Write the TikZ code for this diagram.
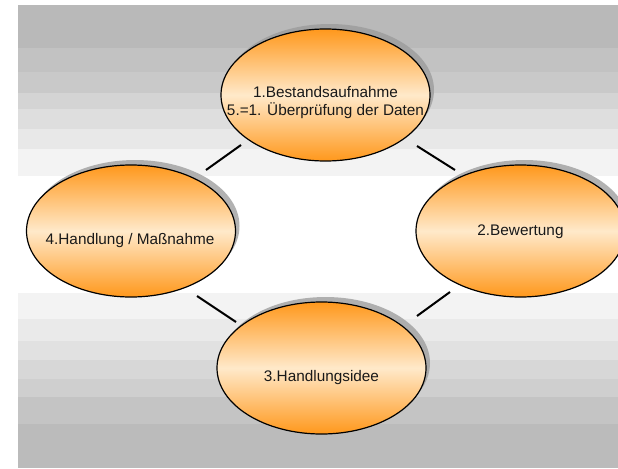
\documentclass[tikz,border=0pt]{standalone}
\usepackage{fontspec}
\setmainfont{Liberation Sans}
\usetikzlibrary{shapes.geometric,shadows,calc}
\definecolor{org}{RGB}{255,152,28}
\definecolor{lgt}{RGB}{255,233,202}
\tikzset{
  bubble/.style={ellipse, draw=black, line width=0.9pt, minimum width=156.75pt, minimum height=99pt,
    top color=org, bottom color=org, middle color=lgt, inner sep=0pt,
    drop shadow={shadow xshift=3pt, shadow yshift=3.75pt, opacity=0.75, fill=gray!80}},
  lbl/.style={font=\fontsize{11.5pt}{13.5pt}\selectfont, text=black!90, align=center, inner sep=0pt},
  conn/.style={line width=1.5pt, black}
}
\begin{document}
\begin{tikzpicture}[x=0.75pt,y=-0.75pt]
\useasboundingbox (0,0) rectangle (618,468);
\fill[white] (0,0) rectangle (618,468);
% top bands
\fill[black!27.5] (18,5) rectangle (618,48);
\fill[black!24] (18,48) rectangle (618,72);
\fill[black!21] (18,72) rectangle (618,93);
\fill[black!17] (18,93) rectangle (618,109);
\fill[black!13] (18,109) rectangle (618,129);
\fill[black!9] (18,129) rectangle (618,149);
\fill[black!4.7] (18,149) rectangle (618,176);
% bottom bands
\fill[black!4.7] (18,293) rectangle (618,319);
\fill[black!8.2] (18,319) rectangle (618,341);
\fill[black!11.8] (18,341) rectangle (618,360);
\fill[black!15.7] (18,360) rectangle (618,379);
\fill[black!18.8] (18,379) rectangle (618,397);
\fill[black!23] (18,397) rectangle (618,424);
\fill[black!26.7] (18,424) rectangle (618,468);
% ellipses
\node[bubble] (n1) at (325.5,95) {};
\node[bubble] (n4) at (131,231) {};
\node[bubble] (n2) at (520.5,231) {};
\node[bubble] (n3) at (321.5,368) {};
% texts
\node[lbl] (t1) at ($(n1.center)+(0,8)$) {1.Bestandsaufnahme\\5.=1. Überprüfung der Daten};
\node[lbl] (t4) at ($(n4.center)+(-1,9.5)$) {4.Handlung / Maßnahme};
\node[lbl] (t2) at ($(n2.center)+(0,1)$) {2.Bewertung};
\node[lbl] (t3) at ($(n3.center)+(0,10)$) {3.Handlungsidee};
% connectors
\coordinate (a1) at (241,145); \coordinate (a4) at (206,170);
\coordinate (b1) at (417,146); \coordinate (b2) at (455,170);
\coordinate (c4) at (197,296); \coordinate (c3) at (236,322);
\coordinate (d2) at (450,292); \coordinate (d3) at (417,316);
\draw[conn] (a1) -- (a4);
\draw[conn] (b1) -- (b2);
\draw[conn] (c4) -- (c3);
\draw[conn] (d2) -- (d3);
\end{tikzpicture}
\end{document}
